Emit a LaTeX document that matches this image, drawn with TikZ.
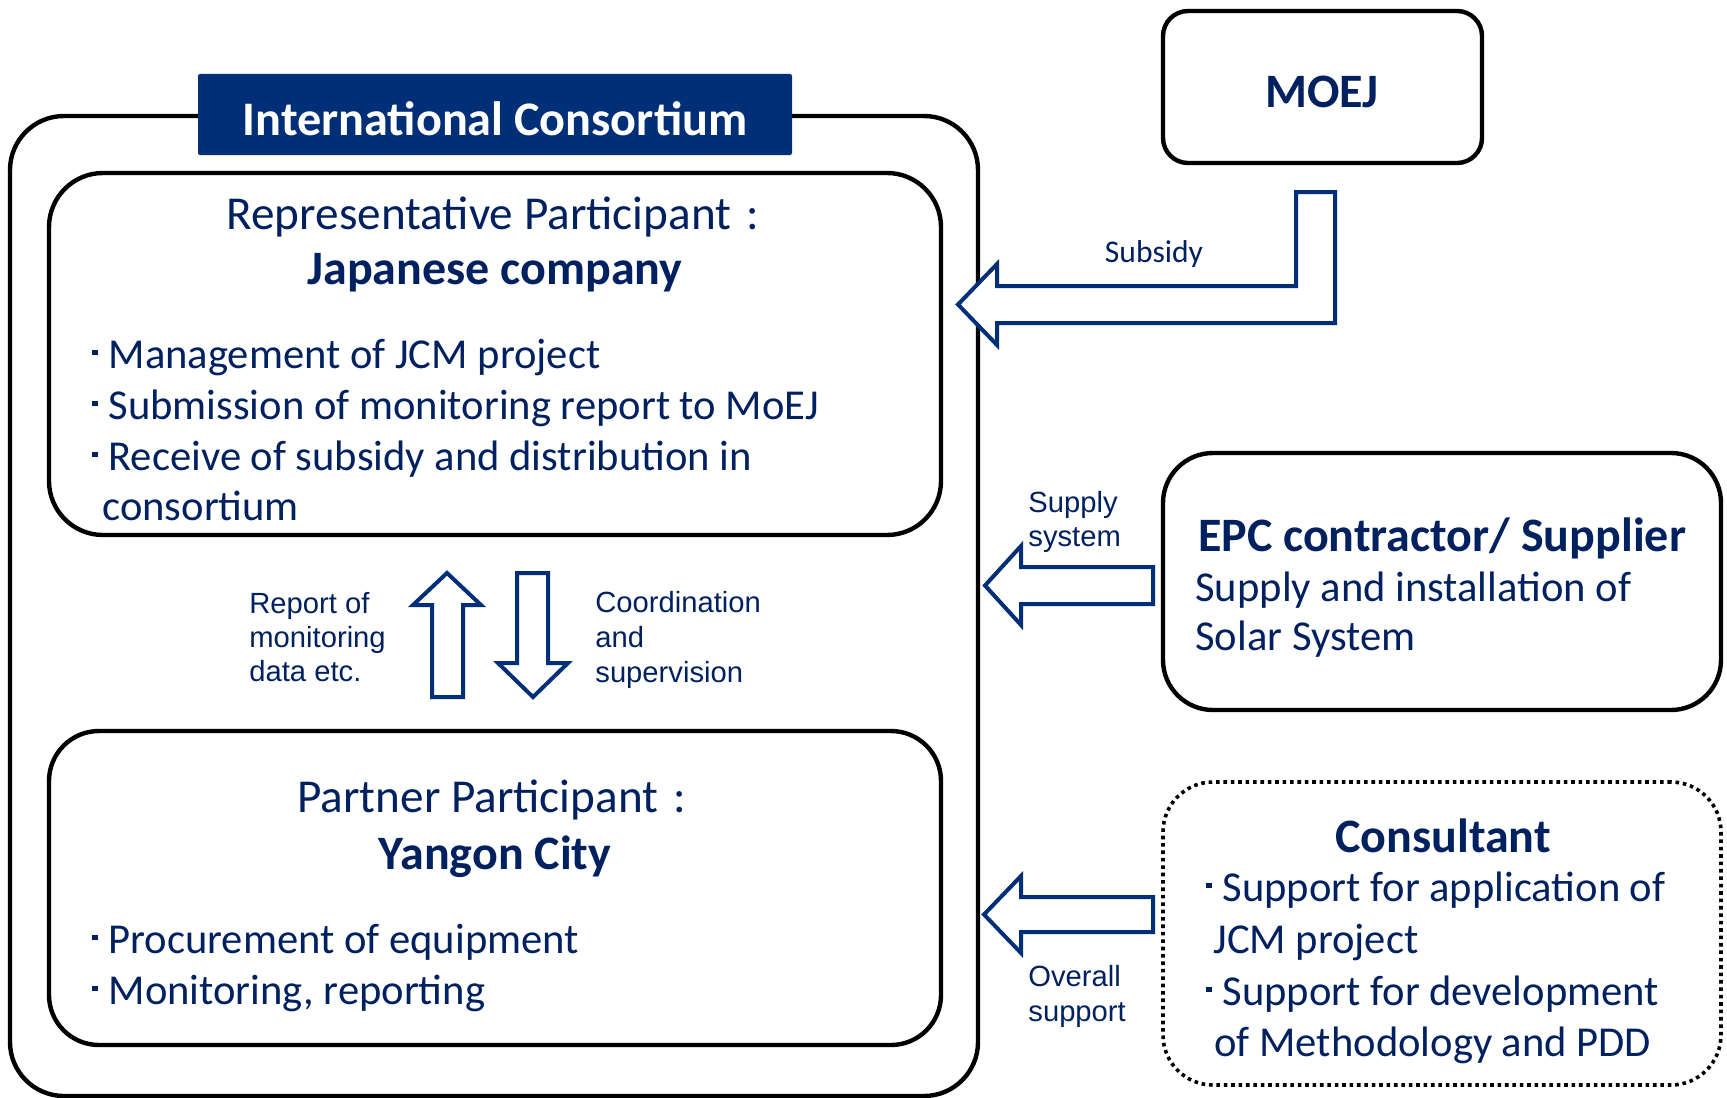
\documentclass[tikz,border=0pt]{standalone}
\usepackage{fontspec}
\setmainfont{Carlito}
\newfontfamily\arialf{Liberation Sans}
\usetikzlibrary{positioning}
\definecolor{navytext}{RGB}{0,32,96}
\definecolor{navyfill}{RGB}{0,47,120}
\newcommand\sqb{\rule[0.3em]{0.13em}{0.13em}\hspace{0.25em}}

\tikzset{
    roundbox/.style={draw=black, line width=2.2pt, inner sep=0pt},
    dotbox/.style={draw=black, line width=1.8pt, dash pattern=on 1.8pt off 1.9pt, rounded corners=25pt, inner sep=0pt},
    blockarrow/.style={draw=navyfill, line width=2pt, fill=white, line join=miter},
    txt/.style={inner sep=0pt, text=navytext},
    bodytxt/.style={txt, anchor=base west, font=\fontsize{21.3}{25}\selectfont},
    headtxt/.style={txt, anchor=base, font=\fontsize{23.6}{28}\selectfont},
    headbold/.style={headtxt, font=\fontsize{24}{28}\selectfont\bfseries},
    lbltxt/.style={txt, anchor=base west, font=\arialf\fontsize{14.6}{17}\selectfont},
}

\begin{document}
\begin{tikzpicture}[x=0.5pt, y=-0.5pt]
    \useasboundingbox (0,0) rectangle (1727,1097);

    % consortium and its two participants
    \node[roundbox, rounded corners=27pt, minimum width=484pt, minimum height=490pt] (consortium) at (494,606) {};
    \node[fill=navyfill, rounded corners=1pt, minimum width=297pt, minimum height=40.5pt] (title) at (495,114.5) {};
    \node[headbold, text=white, font=\fontsize{24.1}{28}\selectfont\bfseries] (title text) at (495,135) {International Consortium};

    \node[roundbox, rounded corners=27pt, minimum width=446pt, minimum height=181pt] (rep) at (495,354) {};
    \node[headtxt] (rep head) at (493,229) {Representative Participant\,\,:};
    \node[headbold] (rep name) at (495,284) {Japanese company};
    \node[bodytxt] (rep 1) at (92,368) {\sqb Management of JCM project};
    \node[bodytxt] (rep 2) at (92,419) {\sqb Submission of monitoring report to MoEJ};
    \node[bodytxt] (rep 3) at (92,470) {\sqb Receive of subsidy and distribution in};
    \node[bodytxt] (rep 4) at (102,520) {consortium};

    \node[roundbox, rounded corners=25pt, minimum width=446pt, minimum height=157pt] (partner) at (495,888) {};
    \node[headtxt] (partner head) at (492,812) {Partner Participant\,\,:};
    \node[headbold] (partner name) at (495,869) {Yangon City};
    \node[bodytxt] (partner 1) at (92,953) {\sqb Procurement of equipment};
    \node[bodytxt] (partner 2) at (92,1004) {\sqb Monitoring, reporting};

    % arrows between participants
    \draw[blockarrow] (432,697) -- (432,605) -- (413,605) -- (447,573) -- (481,605) -- (463,605) -- (463,697) -- cycle;
    \draw[blockarrow] (517,573) -- (548,573) -- (548,663) -- (568,663) -- (533,697) -- (498,663) -- (517,663) -- cycle;
    \node[lbltxt] (report 1) at (249,613) {Report of};
    \node[lbltxt] (report 2) at (249,647) {monitoring};
    \node[lbltxt] (report 3) at (249,681) {data etc.};
    \node[lbltxt] (coord 1) at (595,612) {Coordination};
    \node[lbltxt] (coord 2) at (595,647) {and};
    \node[lbltxt] (coord 3) at (595,682) {supervision};

    % MOEJ
    \node[roundbox, rounded corners=12.5pt, minimum width=159.5pt, minimum height=76pt] (moej) at (1322.5,87) {};
    \node[headbold] (moej text) at (1322,108) {MOEJ};
    \draw[blockarrow] (1296,192) -- (1335,192) -- (1335,323) -- (997,323) -- (997,345) -- (958,304.5) -- (997,264) -- (997,286) -- (1296,286) -- cycle;
    \node[txt, anchor=base, font=\fontsize{15.8}{19}\selectfont] (subsidy) at (1154,262) {Subsidy};

    % EPC contractor
    \node[roundbox, rounded corners=25pt, minimum width=279pt, minimum height=128.5pt] (epc) at (1442,581.5) {};
    \node[headbold] (epc head) at (1442,551) {EPC contractor/ Supplier};
    \node[bodytxt] (epc 1) at (1195,601) {Supply and installation of};
    \node[bodytxt] (epc 2) at (1195,650) {Solar System};
    \draw[blockarrow] (1153,567) -- (1021,567) -- (1021,546) -- (985,585.5) -- (1021,625) -- (1021,604) -- (1153,604) -- cycle;
    \node[lbltxt] (supply 1) at (1028,512) {Supply};
    \node[lbltxt] (supply 2) at (1028,546) {system};

    % consultant
    \node[dotbox, minimum width=279pt, minimum height=151.5pt] (consultant) at (1442,933.5) {};
    \node[headbold] (cons head) at (1443,852) {Consultant};
    \node[bodytxt] (cons 1) at (1206,901) {\sqb Support for application of};
    \node[bodytxt] (cons 2) at (1213,953) {JCM project};
    \node[bodytxt] (cons 3) at (1206,1005) {\sqb Support for development};
    \node[bodytxt] (cons 4) at (1214,1056) {of Methodology and PDD};
    \draw[blockarrow] (1153,897) -- (1021,897) -- (1021,876) -- (984,914.5) -- (1021,953) -- (1021,932) -- (1153,932) -- cycle;
    \node[lbltxt] (overall 1) at (1028,986) {Overall};
    \node[lbltxt] (overall 2) at (1028,1021) {support};
\end{tikzpicture}
\end{document}
